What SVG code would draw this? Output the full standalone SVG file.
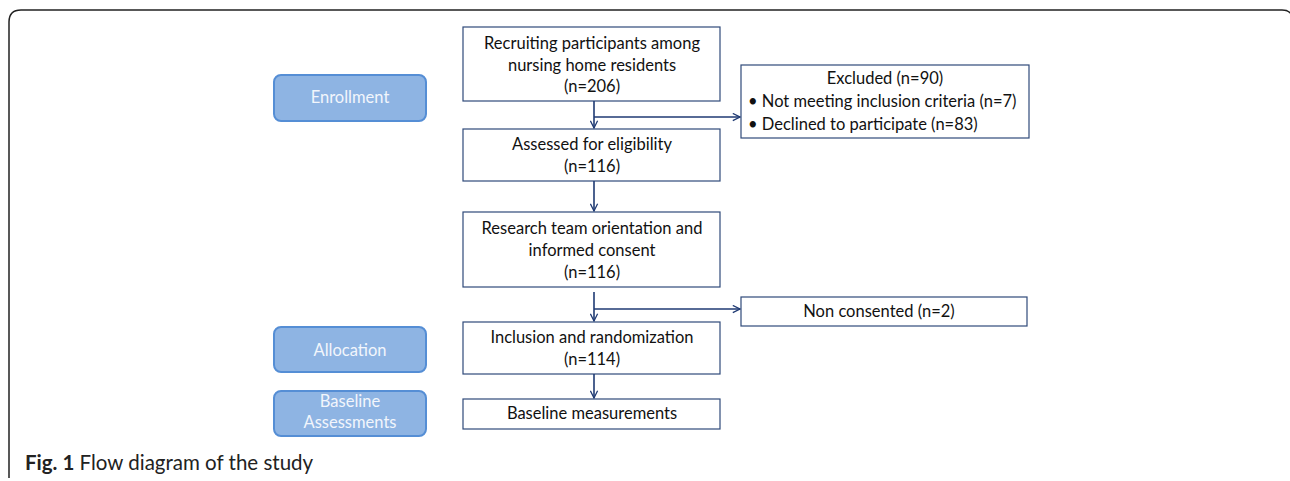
<svg xmlns="http://www.w3.org/2000/svg" width="1290" height="481" viewBox="0 0 1290 481">
<defs>
<style>
.box{fill:#fff;stroke:#2F4A7A;stroke-width:1.2}
.stage{fill:#8EB4E3;stroke:#558ED5;stroke-width:2}
.t{font-family:Lato,"Open Sans",sans-serif;font-size:16.5px;fill:#111;text-anchor:middle}
.st{font-family:Lato,"Open Sans",sans-serif;font-size:16.5px;fill:#F2F6FC;text-anchor:middle}
.c{stroke:#1F3A73;stroke-width:1.6;fill:none}
</style>
<marker id="ah" viewBox="0 0 10 10" refX="9" refY="5" markerWidth="9" markerHeight="9" markerUnits="userSpaceOnUse" orient="auto">
<path d="M1,1 L9,5 L1,9" fill="none" stroke="#1F3A73" stroke-width="1.4"/>
</marker>
</defs>
<rect width="1290" height="481" fill="#fff"/>
<path d="M9,478 L9,22 Q9,10 21,10 L1282,10 Q1290,10 1292,16" fill="none" stroke="#222" stroke-width="1.5"/>

<g id="stage-enrollment"><rect class="stage" x="274" y="75" width="152" height="46" rx="7"/><text class="st" x="350" y="103">Enrollment</text></g>
<g id="stage-allocation"><rect class="stage" x="274" y="327" width="152" height="45" rx="7"/><text class="st" x="350" y="356">Allocation</text></g>
<g id="stage-baseline"><rect class="stage" x="274" y="391" width="152" height="45" rx="7"/><text class="st" x="350" y="407">Baseline</text><text class="st" x="350" y="428">Assessments</text></g>

<g id="n-recruit"><rect class="box" x="463" y="27" width="257" height="74"/><text class="t" x="592" y="49">Recruiting participants among</text><text class="t" x="592" y="71">nursing home residents</text><text class="t" x="592" y="92">(n=206)</text></g>
<g id="n-excluded"><rect class="box" x="741" y="65" width="288" height="73"/><text class="t" x="885" y="84">Excluded (n=90)</text><text class="t" x="748" y="107" style="text-anchor:start">• Not meeting inclusion criteria (n=7)</text><text class="t" x="748" y="130" style="text-anchor:start">• Declined to participate (n=83)</text></g>
<g id="n-assessed"><rect class="box" x="463" y="129" width="257" height="52"/><text class="t" x="592" y="150">Assessed for eligibility</text><text class="t" x="592" y="172">(n=116)</text></g>
<g id="n-research"><rect class="box" x="463" y="212" width="257" height="75"/><text class="t" x="592" y="234">Research team orientation and</text><text class="t" x="592" y="256">informed consent</text><text class="t" x="592" y="278">(n=116)</text></g>
<g id="n-nonconsent"><rect class="box" x="741" y="297" width="286" height="29"/><text class="t" x="879" y="317">Non consented (n=2)</text></g>
<g id="n-inclusion"><rect class="box" x="463" y="322" width="257" height="52"/><text class="t" x="592" y="343">Inclusion and randomization</text><text class="t" x="592" y="365">(n=114)</text></g>
<g id="n-baseline"><rect class="box" x="463" y="399" width="257" height="30"/><text class="t" x="592" y="419">Baseline measurements</text></g>

<g id="connectors">
<line class="c" x1="594" y1="101" x2="594" y2="128" marker-end="url(#ah)"/>
<line class="c" x1="594" y1="117" x2="740" y2="117" marker-end="url(#ah)"/>
<line class="c" x1="594" y1="181" x2="594" y2="211" marker-end="url(#ah)"/>
<line class="c" x1="594" y1="292" x2="594" y2="321" marker-end="url(#ah)"/>
<line class="c" x1="594" y1="309" x2="740" y2="309" marker-end="url(#ah)"/>
<line class="c" x1="594" y1="374" x2="594" y2="398" marker-end="url(#ah)"/>
</g>

<text x="25" y="470" font-family="Lato,'Open Sans',sans-serif" font-size="20.5" fill="#222"><tspan font-weight="bold">Fig. 1</tspan> Flow diagram of the study</text>
</svg>
